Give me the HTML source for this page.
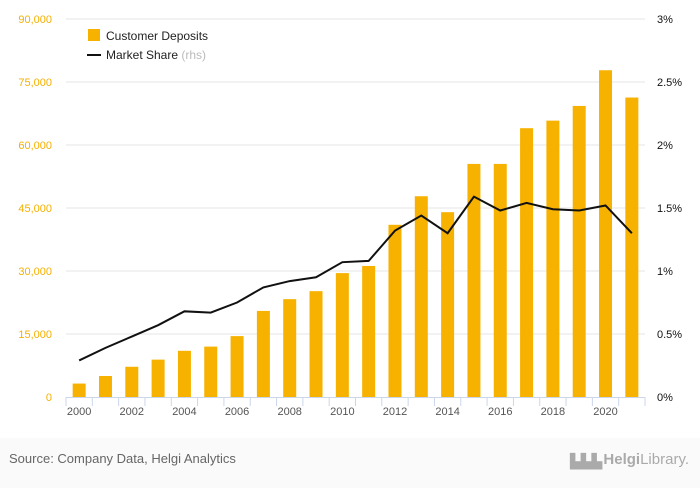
<!DOCTYPE html>
<html><head><meta charset="utf-8"><style>
body{margin:0;background:#fafafa;font-family:"Liberation Sans",sans-serif;}
#wrap{position:relative;width:700px;height:483px;background:#fafafa;}
svg text{font-family:"Liberation Sans",sans-serif;}
</style></head><body>
<div id="wrap">
<svg id="chart" width="700" height="483">
<rect x="0" y="0" width="700" height="438" fill="#ffffff"/>
</svg>
</div>
<script>
const years=[2000,2001,2002,2003,2004,2005,2006,2007,2008,2009,2010,2011,2012,2013,2014,2015,2016,2017,2018,2019,2020,2021];
const deposits=[3200,5000,7200,8900,11000,12000,14500,20500,23300,25200,29500,31200,41000,47800,44000,55500,55500,64000,65800,69300,77800,71300];
const share=[0.29,0.39,0.48,0.57,0.68,0.67,0.75,0.87,0.92,0.95,1.07,1.08,1.32,1.44,1.30,1.59,1.48,1.54,1.49,1.48,1.52,1.30];
const leftTicks=[0,15000,30000,45000,60000,75000,90000];
const leftLabels=["0","15,000","30,000","45,000","60,000","75,000","90,000"];
const rightTicks=[0,0.5,1,1.5,2,2.5,3];
const rightLabels=["0%","0.5%","1%","1.5%","2%","2.5%","3%"];

const NS="http://www.w3.org/2000/svg";
const svg=document.getElementById('chart');
const X0=66,X1=645,Y0=397,Y1=19;
const step=(X1-X0)/years.length;
const xC=i=>X0+step*(i+0.5);
const yL=v=>Y0-(v/90000)*(Y0-Y1);
const yR=v=>Y0-(v/3)*(Y0-Y1);
function mk(tag,attrs){const e=document.createElementNS(NS,tag);for(const k in attrs)e.setAttribute(k,attrs[k]);svg.appendChild(e);return e;}

leftTicks.forEach((t,i)=>{
  if(t>0){const g=mk('line',{x1:X0,x2:X1,y1:yL(t),y2:yL(t),stroke:'#e6e6e6','stroke-width':1});
  
  }
  const l=mk('text',{x:52,y:yL(t)+4,'text-anchor':'end','font-size':11,fill:'#f5b000'});
  l.textContent=leftLabels[i];
  
  
});
rightTicks.forEach((t,i)=>{
  const l=mk('text',{x:657,y:yR(t)+4,'font-size':11,fill:'#111'});
  l.textContent=rightLabels[i];
  
  
});
deposits.forEach((v,i)=>{
  const b=mk('rect',{x:xC(i)-6.5,y:yL(v),width:13,height:Y0-yL(v),fill:'#f7b200'});
  
  
});
const ax=mk('line',{x1:X0,x2:X1,y1:Y0+0.5,y2:Y0+0.5,stroke:'#ccd6eb'});


for(let i=0;i<=years.length;i++){
  const t=mk('line',{x1:X0+step*i,x2:X0+step*i,y1:Y0,y2:Y0+9,stroke:'#ccd6eb'});
  
  
}
years.forEach((y,i)=>{
  if(i%2===0){const l=mk('text',{x:xC(i),y:415,'text-anchor':'middle','font-size':11,fill:'#555'});
  l.textContent=y;
  
  }
});
const pl=mk('polyline',{points:share.map((v,i)=>xC(i)+','+yR(v)).join(' '),fill:'none',stroke:'#111','stroke-width':2});



const lg1=mk('rect',{x:88,y:29,width:12,height:12,fill:'#f7b200'});


const lt1=mk('text',{x:106,y:40,'font-size':12,fill:'#222'});lt1.textContent='Customer Deposits';


const lg2=mk('line',{x1:87,x2:101,y1:55,y2:55,stroke:'#111','stroke-width':2});


const lt2=mk('text',{x:106,y:59,'font-size':12,fill:'#222'});lt2.innerHTML='Market Share <tspan fill="#bbb">(rhs)</tspan>';



const src=mk('text',{x:9,y:463,'font-size':13,fill:'#666'});src.textContent='Source: Company Data, Helgi Analytics';


const logo=mk('text',{x:689,y:464,'text-anchor':'end','font-size':15,fill:'#aaa','font-family':'Liberation Serif'});logo.innerHTML='<tspan font-weight="bold">Helgi</tspan>Library.';


const ic=mk('text',{x:570,y:466,'font-size':14,fill:'#aaa'});ic.textContent='▙▙▙';


</script>
</body></html>
